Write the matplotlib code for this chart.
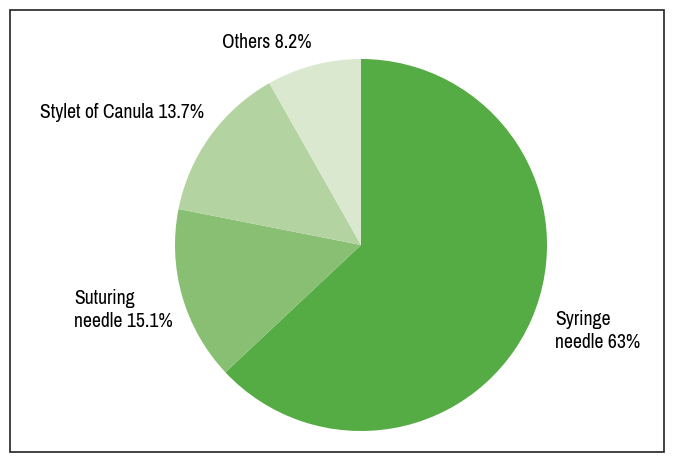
import matplotlib
matplotlib.use("Agg")
import matplotlib.pyplot as plt
from matplotlib.patches import Rectangle

labels = ["Syringe\nneedle 63%", "Suturing\nneedle 15.1%", "Stylet of Canula 13.7%", "Others 8.2%"]
shares = [63.0, 15.1, 13.7, 8.2]
colors = ["#55ab44", "#88bf72", "#b3d4a0", "#dbe8d0"]

W, H = 674, 462
plt.rcParams['font.family'] = ['Archivo Narrow', 'Roboto', 'DejaVu Sans']

fig = plt.figure(figsize=(W / 100, H / 100), dpi=100)
ax = fig.add_axes([0, 0, 1, 1])

# pie in pixel coordinates (y measured from bottom)
ax.pie(shares, colors=colors, startangle=90, counterclock=False,
       center=(361, H - 245), radius=186, frame=True,
       wedgeprops={'linewidth': 0})
ax.set_xlim(0, W)
ax.set_ylim(0, H)
ax.set_aspect('equal')
ax.axis('off')

# outer frame
ax.add_patch(Rectangle((10, H - 452), 654, 442, fill=False, edgecolor='#222222', linewidth=1.2))

fs = 14.2
ax.text(555, H - 331, labels[0], fontsize=fs, ha='left', va='center', linespacing=1.25)
ax.text(74, H - 310, labels[1], fontsize=fs, ha='left', va='center', linespacing=1.25)
ax.text(40, H - 113, labels[2], fontsize=fs, ha='left', va='center')
ax.text(222, H - 43, labels[3], fontsize=fs, ha='left', va='center')

fig.savefig("out.png", dpi=100)
